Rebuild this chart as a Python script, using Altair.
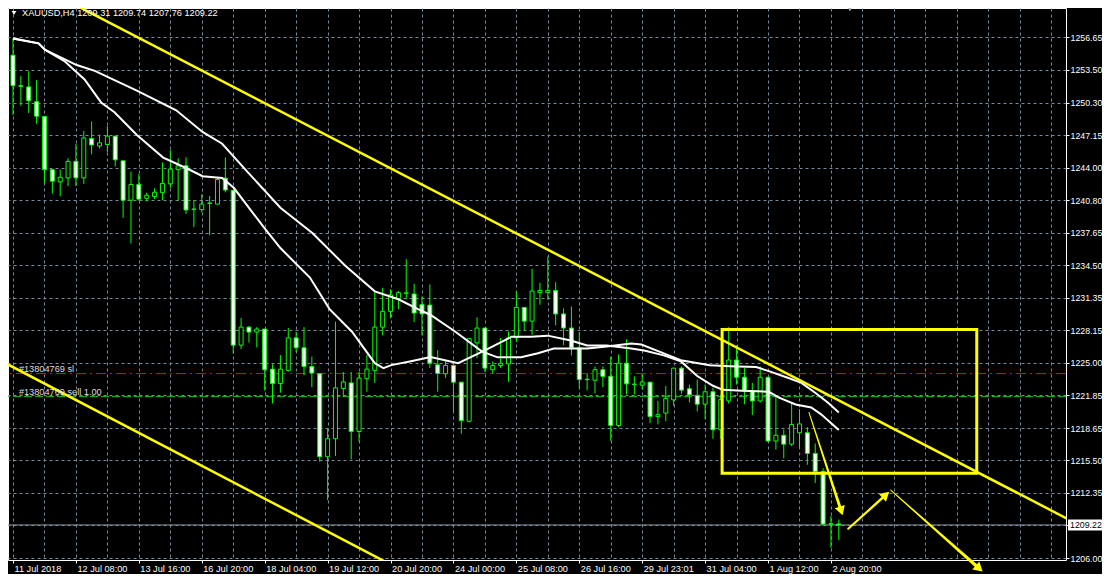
import json
import altair as alt
import pandas as pd

# ---------------- data ----------------
opens = [1254.93, 1251.96, 1251.84, 1250.40, 1248.96, 1243.79, 1242.60, 1242.99, 1244.60, 1242.99,
         1246.82, 1246.10, 1246.24, 1247.05, 1244.65, 1240.82, 1242.35, 1241.00, 1241.17, 1241.55,
         1242.41, 1243.79, 1244.17, 1239.96, 1239.90, 1240.50, 1240.44, 1242.96, 1241.78, 1226.71,
         1228.47, 1227.99, 1228.28, 1224.38, 1222.98, 1224.26, 1227.42, 1226.46, 1224.64, 1223.93,
         1215.86, 1217.61, 1222.50, 1223.04, 1218.32, 1223.45, 1224.26, 1228.47, 1230.00, 1231.25,
         1231.76, 1231.69, 1230.67, 1230.61, 1224.80, 1223.93, 1224.74, 1223.11, 1219.31, 1226.94,
         1228.38, 1224.32, 1224.74, 1224.89, 1227.42, 1230.39, 1229.05, 1231.82, 1231.82, 1232.04,
         1229.75, 1228.38, 1226.46, 1223.36, 1223.30, 1224.32, 1223.68, 1218.90, 1224.96, 1222.88,
         1222.82, 1223.11, 1219.76, 1220.10, 1221.39, 1224.48, 1222.47, 1221.83, 1220.97, 1222.18,
         1218.48, 1221.29, 1225.27, 1223.59, 1222.25, 1221.29, 1223.59, 1217.39, 1217.94, 1217.08,
         1218.19, 1218.19, 1216.18, 1214.43, 1209.30, 1209.31]
highs = [1256.55, 1252.90, 1253.37, 1252.50, 1249.00, 1243.80, 1243.80, 1244.90, 1246.30, 1247.55,
         1248.48, 1247.20, 1248.03, 1247.05, 1244.65, 1243.60, 1243.37, 1241.55, 1241.97, 1244.50,
         1245.70, 1244.90, 1245.00, 1240.82, 1241.40, 1241.24, 1243.00, 1244.97, 1241.80, 1229.36,
         1228.57, 1228.47, 1228.28, 1224.86, 1225.75, 1228.38, 1227.99, 1228.47, 1225.60, 1223.93,
         1218.57, 1229.00, 1224.10, 1224.10, 1224.10, 1225.75, 1232.07, 1232.30, 1232.14, 1231.98,
         1235.08, 1232.69, 1231.44, 1232.62, 1226.23, 1225.27, 1224.80, 1223.11, 1227.35, 1229.43,
         1228.38, 1225.12, 1227.42, 1228.05, 1231.92, 1230.39, 1234.15, 1232.78, 1235.33, 1232.84,
         1230.29, 1230.48, 1227.99, 1224.00, 1224.64, 1224.64, 1225.60, 1225.82, 1227.29, 1223.68,
         1223.90, 1223.11, 1221.29, 1222.73, 1224.48, 1224.64, 1222.88, 1223.36, 1222.88, 1222.56,
         1221.90, 1228.47, 1226.71, 1224.48, 1223.04, 1224.64, 1223.59, 1221.80, 1218.51, 1221.13,
         1220.49, 1218.73, 1217.14, 1214.74, 1210.12, 1209.74]
lows = [1249.09, 1250.00, 1249.30, 1248.26, 1242.50, 1241.46, 1241.20, 1242.20, 1242.20, 1242.40,
        1245.29, 1245.86, 1245.48, 1244.10, 1239.10, 1236.60, 1240.76, 1240.70, 1240.92, 1240.82,
        1242.00, 1240.76, 1239.48, 1238.20, 1239.64, 1237.40, 1240.44, 1241.58, 1225.90, 1226.33,
        1226.97, 1226.49, 1222.30, 1221.03, 1222.09, 1224.16, 1226.01, 1223.78, 1222.63, 1215.38,
        1211.65, 1215.93, 1221.67, 1215.60, 1217.30, 1222.18, 1223.04, 1227.67, 1229.33, 1230.22,
        1231.18, 1228.95, 1227.67, 1224.50, 1222.18, 1223.52, 1220.27, 1218.10, 1219.21, 1225.44,
        1224.10, 1223.90, 1224.48, 1223.14, 1227.04, 1228.15, 1227.73, 1230.64, 1231.12, 1228.63,
        1226.71, 1225.70, 1222.50, 1222.31, 1222.02, 1222.63, 1217.40, 1218.73, 1221.92, 1221.92,
        1222.40, 1219.12, 1219.00, 1219.31, 1220.81, 1221.99, 1221.13, 1220.27, 1219.53, 1217.61,
        1217.60, 1221.03, 1222.88, 1220.97, 1219.91, 1221.13, 1217.30, 1216.56, 1215.70, 1216.89,
        1216.75, 1215.07, 1213.31, 1209.30, 1206.99, 1207.76]
closes = [1251.96, 1251.90, 1250.50, 1248.99, 1243.79, 1242.67, 1243.05, 1244.60, 1243.00, 1246.88,
          1246.19, 1246.40, 1247.05, 1244.75, 1240.82, 1242.35, 1240.92, 1241.30, 1241.59, 1242.45,
          1243.85, 1244.17, 1239.87, 1239.92, 1240.44, 1240.55, 1242.83, 1241.81, 1226.71, 1228.47,
          1227.99, 1228.28, 1224.32, 1222.98, 1224.38, 1227.42, 1226.46, 1224.64, 1224.00, 1215.86,
          1217.61, 1222.56, 1223.14, 1218.32, 1223.52, 1224.38, 1228.47, 1230.00, 1231.60, 1231.82,
          1231.80, 1229.84, 1229.75, 1224.96, 1223.97, 1224.74, 1223.11, 1219.38, 1227.35, 1228.38,
          1224.48, 1224.74, 1224.96, 1227.42, 1230.39, 1229.05, 1231.98, 1232.04, 1232.04, 1229.75,
          1228.38, 1226.46, 1223.36, 1223.40, 1224.32, 1223.68, 1218.90, 1224.96, 1222.95, 1222.92,
          1223.14, 1219.76, 1219.95, 1221.51, 1224.48, 1222.34, 1221.87, 1220.97, 1222.18, 1218.48,
          1221.45, 1225.27, 1223.59, 1222.25, 1221.29, 1223.59, 1217.39, 1217.94, 1217.08, 1219.00,
          1219.05, 1216.18, 1214.43, 1209.30, 1209.35, 1209.22]
bar_index = list(range(len(opens)))

date_labels = ["11 Jul 2018", "12 Jul 08:00", "13 Jul 16:00", "16 Jul 20:00", "18 Jul 04:00",
               "19 Jul 12:00", "20 Jul 20:00", "24 Jul 00:00", "25 Jul 08:00", "26 Jul 16:00",
               "29 Jul 23:01", "31 Jul 04:00", "1 Aug 12:00", "2 Aug 20:00"]
label_step = 8
grid_step = 4

price_ticks = [1206.00, 1209.20, 1212.35, 1215.50, 1218.65, 1221.85, 1225.00, 1228.15, 1231.35,
               1234.50, 1237.65, 1240.80, 1244.00, 1247.15, 1250.30, 1253.50, 1256.65]

ma_slow_x = [0, 3.25, 4.1, 8.1, 10.4, 15.75, 20.75, 24.1, 26.6, 29.75, 34, 38.1, 42.25, 46, 49,
             51.5, 53.1, 56.25, 59.6, 61.6, 64.6, 66.75, 68.75, 73, 75.5, 78.6, 79.9, 82.75, 84.9,
             88.6, 91.1, 94.5, 96.1, 98.6, 100.25, 102, 103.6, 105]
ma_slow_y = [1256.56, 1256.08, 1255.44, 1253.97, 1253.40, 1251.48, 1249.57, 1247.46, 1246.31, 1243.63,
             1240.09, 1237.60, 1234.44, 1231.95, 1231.18, 1230.22, 1229.65, 1228.02, 1226.11, 1225.53,
             1225.53, 1225.92, 1226.39, 1226.39, 1226.59, 1226.87, 1226.78, 1225.92, 1225.25, 1224.77,
             1224.67, 1224.58, 1224.19, 1223.52, 1223.04, 1222.09, 1221.13, 1220.17]
ma_fast_x = [0, 3.25, 4.1, 6.6, 9.1, 11.2, 12.9, 15.75, 19.1, 22.0, 24.1, 26.6, 28.1, 31.9, 34,
             37.75, 40.25, 43.1, 46, 47.1, 48.1, 50.6, 53.1, 56.6, 60, 63.4, 65.9, 68, 70.9, 73,
             75.5, 78.6, 80.25, 82.75, 84.9, 87, 89, 90.25, 92.75, 96.1, 97.4, 99.5, 101.5, 102.75, 105]
ma_fast_y = [1256.56, 1256.08, 1255.44, 1254.32, 1252.56, 1250.33, 1249.37, 1247.17, 1244.97, 1243.95,
             1243.15, 1242.99, 1242.00, 1238.17, 1236.16, 1233.29, 1230.22, 1228.02, 1224.96, 1224.48,
             1224.77, 1225.15, 1225.56, 1224.96, 1226.20, 1227.54, 1227.54, 1227.64, 1227.16, 1226.68,
             1226.68, 1226.39, 1226.20, 1225.72, 1225.15, 1223.71, 1222.76, 1222.37, 1222.28, 1222.18,
             1221.61, 1220.94, 1220.65, 1219.98, 1218.45]

trend_upper_x = [5, 136]
trend_upper_y = [1260.97, 1209.05]
trend_lower_x = [-1, 48]
trend_lower_y = [1224.98, 1205.38]

box_x = [90.16, 122.54]
box_y = [1228.24, 1214.26]

arrow_id = ["a1", "a1", "a2", "a2", "a3", "a3"]
arrow_x = [101.2, 105.3, 106.2, 110.98, 111.6, 122.85]
arrow_y = [1220.17, 1210.59, 1208.84, 1212.16, 1212.61, 1204.98]
arrow_w = [1.0, 3.0, 2.0, 2.5, 1.0, 3.5]
head_x = [105.3, 110.98, 122.85]
head_y = [1210.59, 1212.16, 1204.98]
head_angle = [162, 48, 132]

sl_price = 1223.95
entry_price = 1221.70
order_labels = ["#13804769 sl", "#13804769 sell 1.00"]
order_label_x = [0.75, 0.75]
current_price = 1209.22
header_text = "XAUUSD,H4  1209.31 1209.74 1207.76 1209.22"
shift_marker_x = [106.4]

# ---------------- layout / style ----------------
# whole page must stay inside 1110x582 with the 8px body margin: svg <= 1094 x 566
W, H = 1058, 552
PAD = {"left": 0, "top": 0, "right": 36, "bottom": 14}
X_DOMAIN = [0, 133.25]
Y_DOMAIN = [1205.81, 1259.52]
FONT = "Liberation Sans"
FS = 9.2
LIME = "#00ff00"
GRIDC = "#778899"
YELLOW = "#ffff00"

xs = alt.Scale(domain=X_DOMAIN, nice=False, zero=False)
ys = alt.Scale(domain=Y_DOMAIN, nice=False, zero=False)

arr = json.dumps(date_labels)
last_lab = label_step * (len(date_labels) - 1)
x_label_expr = (f"(datum.value % {label_step} === 0 && datum.value <= {last_lab}) ? "
                f"{arr}[round(datum.value / {label_step})] : ''")

x_axis = alt.Axis(
    values=list(range(0, 133, grid_step)), grid=True, gridColor=GRIDC, gridDash=[3, 3],
    gridWidth=1, domain=False, ticks=True, tickColor="white", tickSize=3,
    tickOpacity={"condition": {"test": f"datum.value % {label_step} === 0 && datum.value <= {last_lab}",
                               "value": 1}, "value": 0},
    labelExpr=x_label_expr, labelAlign="left", labelBaseline="top", labelOffset=1,
    labelPadding=1, labelColor="white", labelFont=FONT, labelFontSize=FS,
    labelFlush=False, labelOverlap=False, labelBound=False, title=None)

y_axis = alt.Axis(
    orient="right", values=price_ticks, grid=True, gridColor=GRIDC, gridDash=[3, 3],
    gridWidth=1, domain=False, tickColor="white", tickSize=3,
    labelExpr=f"abs(datum.value - {current_price}) < 0.1 ? '' : format(datum.value, '.2f')",
    labelAlign="left", labelBaseline="middle", labelPadding=1, labelColor="white",
    labelFont=FONT, labelFontSize=8.8, labelBound=False, labelOverlap=False, labelFlush=False,
    title=None)


def X(f):
    return alt.X(f, type="quantitative", scale=xs, axis=x_axis)


def Y(f):
    return alt.Y(f, type="quantitative", scale=ys, axis=y_axis)


candles = pd.DataFrame({"i": bar_index, "o": opens, "h": highs, "l": lows, "c": closes})
slow_df = pd.DataFrame({"x": ma_slow_x, "y": ma_slow_y})
fast_df = pd.DataFrame({"x": ma_fast_x, "y": ma_fast_y})
up_df = pd.DataFrame({"x": trend_upper_x, "y": trend_upper_y})
lo_df = pd.DataFrame({"x": trend_lower_x, "y": trend_lower_y})
box_df = pd.DataFrame({"x": [box_x[0]], "x2": [box_x[1]], "y": [box_y[0]], "y2": [box_y[1]]})
arrow_df = pd.DataFrame({"arrow": arrow_id, "x": arrow_x, "y": arrow_y, "w": arrow_w,
                         "seq": list(range(len(arrow_x)))})
head_df = pd.DataFrame({"x": head_x, "y": head_y, "ang": head_angle})
sl_df = pd.DataFrame({"p": [sl_price]})
en_df = pd.DataFrame({"p": [entry_price]})
cur_df = pd.DataFrame({"p": [current_price], "lab": [f"{current_price:.2f}"]})
ord_df = pd.DataFrame({"x": order_label_x, "p": [sl_price, entry_price], "t": order_labels})
hdr_df = pd.DataFrame({"t": [header_text]})
shift_df = pd.DataFrame({"x": shift_marker_x})

# ---------------- layers ----------------
sl_line = alt.Chart(sl_df).mark_rule(color="#ff0000", strokeWidth=1,
                                     strokeDash=[10, 4, 2, 4]).encode(y=Y("p"))
en_line = alt.Chart(en_df).mark_rule(color="#22cc22", strokeWidth=1,
                                     strokeDash=[8, 3]).encode(y=Y("p"))
cur_line = alt.Chart(cur_df).mark_rule(color="#8c96a0", strokeWidth=1).encode(y=Y("p"))

lower_trend = alt.Chart(lo_df).mark_line(color=YELLOW, strokeWidth=2.5, clip=True).encode(
    x=X("x"), y=Y("y"))

wicks = alt.Chart(candles).mark_rule(color=LIME, strokeWidth=1, clip=True).encode(
    x=X("i"), y=Y("l"), y2="h")
bodies = alt.Chart(candles).mark_bar(width=4, stroke=LIME, strokeWidth=1, clip=True).encode(
    x=X("i"), y=Y("o"), y2="c",
    fill=alt.condition("datum.c >= datum.o", alt.value("black"), alt.value("white")))

slow_line = alt.Chart(slow_df).mark_line(color="white", strokeWidth=2, clip=True).encode(
    x=X("x"), y=Y("y"))
fast_line = alt.Chart(fast_df).mark_line(color="white", strokeWidth=2, clip=True).encode(
    x=X("x"), y=Y("y"))

upper_trend = alt.Chart(up_df).mark_line(color=YELLOW, strokeWidth=2.5, clip=True).encode(
    x=X("x"), y=Y("y"))

box = alt.Chart(box_df).mark_rect(fillOpacity=0, stroke=YELLOW, strokeWidth=3).encode(
    x=X("x"), x2="x2", y=Y("y"), y2="y2")

trails = alt.Chart(arrow_df).mark_trail(color=YELLOW).encode(
    x=X("x"), y=Y("y"), size=alt.Size("w:Q", scale=None, legend=None),
    detail="arrow:N", order="seq:Q")
heads = alt.Chart(head_df).mark_point(shape="triangle-up", filled=True, color=YELLOW,
                                      size=110, opacity=1, strokeWidth=0).encode(
    x=X("x"), y=Y("y"), angle=alt.Angle("ang:Q", scale=None))

order_text = alt.Chart(ord_df).mark_text(align="left", baseline="middle", dy=-5,
                                         font=FONT, fontSize=FS, color="#dcdcdc").encode(
    x=X("x"), y=Y("p"), text="t:N")

header = alt.Chart(hdr_df).mark_text(align="left", baseline="middle", font=FONT, fontSize=FS,
                                     color="white").encode(
    x=alt.value(14), y=alt.value(5), text="t:N")
header_tri = alt.Chart(hdr_df).mark_point(shape="triangle-down", filled=True, color="white",
                                          size=22, opacity=1).encode(
    x=alt.value(6), y=alt.value(5))

shift_marker = alt.Chart(shift_df).mark_point(shape="triangle-down", filled=True,
                                              color="#b8b8b8", size=30, opacity=1).encode(
    x=X("x"), y=alt.value(1))

cur_box = alt.Chart(cur_df).mark_rule(color="white", strokeWidth=11).encode(
    x=alt.value(W + 2), x2=alt.value(W + 36), y=Y("p"))
cur_text = alt.Chart(cur_df).mark_text(align="left", baseline="middle", font=FONT, fontSize=8.8,
                                       color="black").encode(
    x=alt.value(W + 4), y=Y("p"), text="lab:N")

chart = alt.layer(
    sl_line, en_line, cur_line, lower_trend, wicks, bodies, slow_line, fast_line,
    upper_trend, box, trails, heads, order_text, header, header_tri, shift_marker,
    cur_box, cur_text
).properties(
    width=W, height=H,
    autosize=alt.AutoSizeParams(type="none"),
    padding=PAD,
    background="black",
    usermeta={"embedOptions": {"defaultStyle": "body{background:#000000;}"}},
).configure_view(stroke="white", strokeWidth=1)

chart.save("out.html", embed_options={"renderer": "svg", "actions": False})
